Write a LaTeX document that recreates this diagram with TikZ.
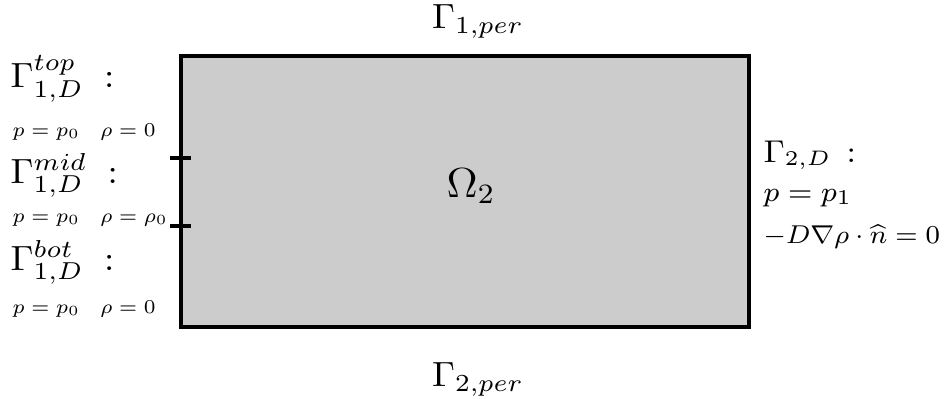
\documentclass[tikz,border=0pt]{standalone}
\usepackage{amsmath}
\begin{document}
\begin{tikzpicture}[x=0.2857pt,y=-0.2857pt,
  every node/.style={xscale=1.05},
  lbl/.style={inner sep=0pt, anchor=base west},
  clbl/.style={inner sep=0pt, anchor=base},
  cond/.style={lbl, font=\scriptsize, scale=0.8},
  edge/.style={line width=1pt}]
\useasboundingbox (0,0) rectangle (951,398);
\coordinate (nw) at (181,56);
\coordinate (se) at (749,327);
\draw[edge, fill=black!20] (nw) rectangle (se);
\coordinate (k1a) at (170,158); \coordinate (k1b) at (191,158);
\coordinate (k2a) at (170,226); \coordinate (k2b) at (191,226);
\draw[edge] (k1a) -- (k1b);
\draw[edge] (k2a) -- (k2b);
\node[clbl] (gtop) at (478,28) {$\Gamma_{1,per}$};
\node[clbl] (gbot) at (478,386) {$\Gamma_{2,per}$};
\node[lbl] (om) at (446,197) {\large $\Omega_2$};
\node[lbl] (l1) at (10,87) {$\Gamma^{top}_{1,D}\;:$};
\node[cond] (c1) at (12,136) {$p=p_0\quad\rho=0$};
\node[lbl] (l2) at (10,183) {$\Gamma^{mid}_{1,D}\;:$};
\node[cond] (c2) at (12,222) {$p=p_0\quad\rho=\rho_0$};
\node[lbl] (l3) at (10,270) {$\Gamma^{bot}_{1,D}\;:$};
\node[cond] (c3) at (12,313) {$p=p_0\quad\rho=0$};
\node[lbl, font=\small] (r1) at (763,162) {$\Gamma_{2,D}\,:$};
\node[lbl, font=\footnotesize] (r2) at (763,201) {$p=p_1$};
\node[lbl, font=\footnotesize, scale=0.92] (r3) at (763,243) {$-D\nabla\rho\cdot\widehat{n}=0$};
\end{tikzpicture}
\end{document}
